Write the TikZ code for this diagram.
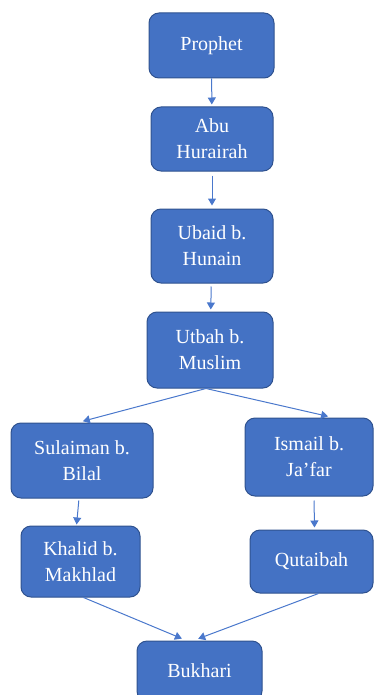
\documentclass[tikz,border=0pt]{standalone}
\usepackage{fontspec}
\setmainfont{Liberation Serif}
\usetikzlibrary{arrows.meta}

\definecolor{boxblue}{HTML}{4472C4}
\definecolor{boxedge}{HTML}{2F528F}
\definecolor{linkblue}{HTML}{4A78CC}

\begin{document}
\begin{tikzpicture}[x = 1pt, y = -1pt,
                    narrator/.style = {rectangle, rounded corners = 10pt, draw = boxedge, line width = 1pt,
                                       fill = boxblue, text = white, align = center, inner sep = 0pt,
                                       font = \fontsize{20}{26}\selectfont},
                    link/.style = {draw = linkblue, line width = 1pt,
                                   -{Triangle[width = 8pt, length = 7pt]}}]

\useasboundingbox (0,0) rectangle (374,695);

% chain from the Prophet
\node [narrator, minimum width = 125pt, minimum height = 65pt] (N1) at (211.5,45.5) {Prophet};
\node [narrator, minimum width = 122pt, minimum height = 64pt] (N2) at (212,139) {Abu\\Hurairah};
\node [narrator, minimum width = 122pt, minimum height = 74pt] (N3) at (212,246) {Ubaid b.\\Hunain};
\node [narrator, minimum width = 126pt, minimum height = 76pt] (N4) at (210,350) {Utbah b.\\Muslim};

% two branches
\node [narrator, minimum width = 142pt, minimum height = 75pt] (L1) at (82,460.5) {Sulaiman b.\\Bilal};
\node [narrator, minimum width = 128pt, minimum height = 78pt] (R1) at (309,457) {Ismail b.\\Ja'far};
\node [narrator, minimum width = 119pt, minimum height = 71pt] (L2) at (80.5,561.5) {Khalid b.\\Makhlad};
\node [narrator, minimum width = 123pt, minimum height = 63pt] (R2) at (311.5,561.5) {Qutaibah};

\node [narrator, minimum width = 125pt, minimum height = 60pt] (B) at (199.5,671) {Bukhari};

\draw [link, shorten > = 2pt] (N1) -- (N2);
\draw [link, shorten <= 4pt, shorten > = 3pt] (N2) -- (N3);
\draw [link, shorten <= 3pt, shorten > = 2pt] (N3) -- (N4);

\draw [link, shorten > = 5pt] ([xshift = -4pt]N4.south) -- ([xshift = -4pt]L1.north);
\draw [link, shorten > = 5pt] ([xshift = -4pt]N4.south) -- ([xshift = 24pt]R1.north);

\draw [link, shorten <= 2pt, shorten > = 1pt] ([xshift = -3pt]L1.south) -- ([xshift = -4pt]L2.north);
\draw [link, shorten <= 4pt, shorten > = 2pt] ([xshift = 5pt]R1.south) -- ([xshift = 3pt]R2.north);

\draw [link, shorten > = 5pt] ([xshift = 3pt]L2.south) -- ([xshift = -13pt]B.north);
\draw [link, shorten > = 5pt] ([xshift = 7pt]R2.south) -- ([xshift = -6pt]B.north);
\end{tikzpicture}
\end{document}
